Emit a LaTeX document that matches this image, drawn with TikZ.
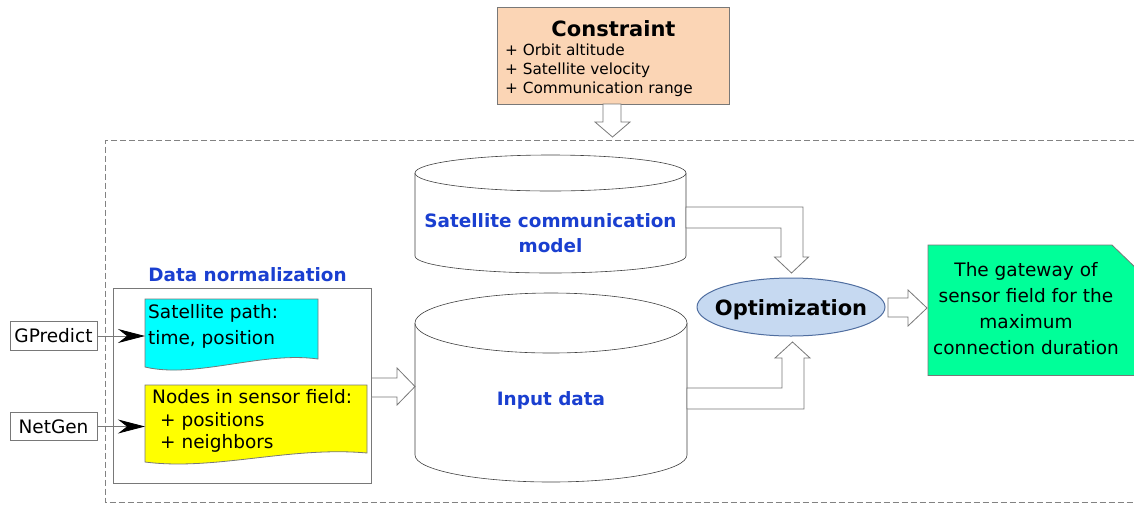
\documentclass[tikz,border=0pt]{standalone}
\usepackage{fontspec}
\setmainfont{DejaVu Sans}
\usetikzlibrary{arrows.meta,shapes.geometric}
\definecolor{peach}{RGB}{251,213,181}
\definecolor{boxgray}{RGB}{120,120,120}
\definecolor{dashgray}{RGB}{130,130,130}
\definecolor{titleblue}{RGB}{26,63,208}
\definecolor{optfill}{RGB}{198,217,241}
\definecolor{optdraw}{RGB}{80,110,160}
\definecolor{docgreen}{RGB}{0,255,153}
\definecolor{doccyan}{RGB}{0,255,255}
\definecolor{docyellow}{RGB}{255,255,0}
\begin{document}
\begin{tikzpicture}[x=1pt,y=-1pt,
  txt/.style={inner sep=0pt,anchor=base,font=\fontsize{18.5}{22}\selectfont},
  txtl/.style={txt,anchor=base west},
  small/.style={inner sep=0pt,anchor=base west,font=\fontsize{15.3}{19}\selectfont},
  bigbold/.style={inner sep=0pt,anchor=base,font=\fontsize{21}{25}\selectfont\bfseries},
  bluebold/.style={inner sep=0pt,anchor=base,text=titleblue,font=\fontsize{18.4}{22}\selectfont\bfseries},
  plainbox/.style={draw=boxgray,line width=0.8pt,inner sep=0pt},
  hollow/.style={draw=boxgray,fill=white,line width=0.8pt,line join=miter},
  cyl/.style={draw=black!75,fill=white,line width=0.6pt},
  feed/.style={draw=boxgray,line width=0.8pt,-{Stealth[length=27pt,width=14pt,inset=9pt,black]}}
]
\useasboundingbox (0,0) rectangle (1134,504);

% dashed frame
\draw[dashgray,line width=1pt,dash pattern=on 6pt off 3pt] (1134,140) -- (105.5,140) -- (105.5,502.5) -- (1134,502.5);

% constraint
\node[plainbox,fill=peach,minimum width=232pt,minimum height=97pt] (constraint) at (613,55.5) {};
\node[bigbold] (ctitle) at (613.5,36.5) {Constraint};
\node[small] (c1) at (505,55.5) {+ Orbit altitude};
\node[small] (c2) at (505,74.5) {+ Satellite velocity};
\node[small] (c3) at (505,93.5) {+ Communication range};
\draw[hollow] (603,104) -- (621,104) -- (621,122) -- (630,122) -- (612.5,137) -- (595,122) -- (603,122) -- cycle;

% satellite communication model cylinder
\draw[cyl] (415,173) -- (415,256) arc[start angle=180,end angle=360,x radius=135.5pt,y radius=17pt] -- (686,173);
\draw[cyl] (550.5,173) ellipse[x radius=135.5pt,y radius=18pt];
\node[bluebold] (scm1) at (550.5,227) {Satellite communication};
\node[bluebold] (scm2) at (550.5,252) {model};

% input data cylinder
\draw[cyl] (415,323) -- (415,455) arc[start angle=180,end angle=360,x radius=136pt,y radius=27pt] -- (687,323);
\draw[cyl] (551,323) ellipse[x radius=136pt,y radius=30pt];
\node[bluebold] (input) at (551,405) {Input data};

% data normalization
\node[bluebold] (dnlabel) at (247.5,281) {Data normalization};
\node[plainbox,minimum width=258pt,minimum height=195pt] (dnbox) at (242,385.5) {};

% cyan document
\draw[draw=boxgray,line width=0.8pt,fill=doccyan] (145,299) -- (318,299) -- (318,359)
  .. controls (262,351) and (195,379) .. (145,367) -- cycle;
\node[txtl] (sp1) at (148,318) {Satellite path:};
\node[txtl] (sp2) at (148,344) {time, position};

% yellow document
\draw[draw=boxgray,line width=0.8pt,fill=docyellow] (145,385) -- (367,385) -- (367,453)
  .. controls (290,446) and (215,471) .. (145,462) -- cycle;
\node[txtl] (nd1) at (152,403) {Nodes in sensor field:};
\node[txtl] (nd2) at (160,426) {+ positions};
\node[txtl] (nd3) at (160,448) {+ neighbors};

% sources
\node[plainbox,minimum width=87pt,minimum height=29pt] (gpredict) at (53.5,336) {};
\node[txt] (gptext) at (53.5,342) {GPredict};
\node[plainbox,minimum width=87pt,minimum height=28pt] (netgen) at (53.5,426.5) {};
\node[txt] (ngtext) at (53.5,433) {NetGen};
\coordinate (cyanin) at (145,336);
\coordinate (yellowin) at (145,426.5);
\draw[feed] (gpredict.east) -- (cyanin);
\draw[feed] (netgen.east) -- (yellowin);

% arrow data normalization -> input data
\draw[hollow] (dnbox.east |- 0,378) -- (397,378) -- (397,368) -- (415,386.5) -- (397,405) -- (397,397) -- (dnbox.east |- 0,397) -- cycle;

% optimization
\node[ellipse,draw=optdraw,fill=optfill,line width=1pt,minimum width=188pt,minimum height=58pt,inner sep=0pt] (opt) at (791,307) {};
\node[bigbold] (opttext) at (791,315) {Optimization};

% elbow arrows
\draw[hollow] (686,207) -- (803,207) -- (803,257) -- (808.5,257) -- (791.5,273) -- (774.5,257) -- (781,257) -- (781,228) -- (686,228) -- cycle;
\draw[hollow] (687,409) -- (804,409) -- (804,358) -- (810,358) -- (792.5,342) -- (775,358) -- (782,358) -- (782,388) -- (687,388) -- cycle;

% optimization -> result
\draw[hollow] (888,298) -- (908,298) -- (908,290) -- (927,308) -- (908,326) -- (908,317) -- (888,317) -- cycle;

% result document
\draw[draw=boxgray,line width=0.8pt,fill=docgreen] (928,245) -- (1112,245) -- (1140,272) -- (1140,375.5) -- (928,375.5) -- cycle;
\node[txt] (r1) at (1026,276) {The gateway of};
\node[txt] (r2) at (1026,302) {sensor field for the};
\node[txt] (r3) at (1026,328) {maximum};
\node[txt] (r4) at (1026,354) {connection duration};
\end{tikzpicture}
\end{document}
